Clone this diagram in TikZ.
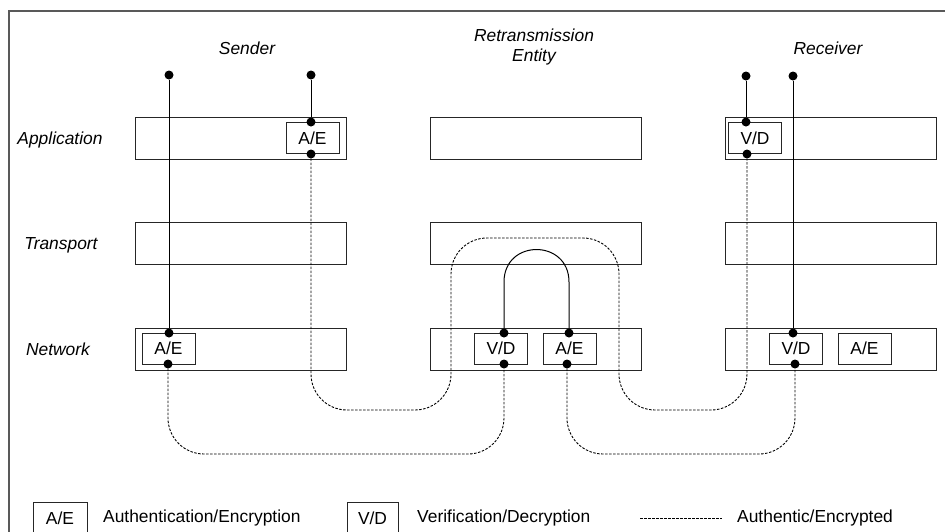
\documentclass[tikz,border=0pt]{standalone}
\usepackage{fontspec}
\setmainfont{Liberation Sans}
\begin{document}
\begin{tikzpicture}[x=1pt, y=-1pt,
  layer/.style={shape=rectangle, draw=black!85, line width=0.9pt, minimum width=211pt, minimum height=42pt},
  unit/.style={shape=rectangle, draw=black!85, fill=white, line width=0.9pt, minimum width=53pt, minimum height=31pt, inner sep=0pt, font=\fontsize{17.4}{20}\selectfont},
  dot/.style={shape=circle, fill=black, inner sep=0pt, minimum size=9pt},
  head/.style={font=\fontsize{17.4}{20}\selectfont\itshape, align=center, inner sep=0pt},
  legend/.style={font=\fontsize{17.4}{20}\selectfont, anchor=west, inner sep=0pt},
  link/.style={-, line width=1pt, draw=black},
  auth/.style={-, line width=0.9pt, draw=black, dash pattern=on 2.5pt off 1.5pt, rounded corners=36pt}]
\useasboundingbox (0,0) rectangle (945,531);
\clip (0,0) rectangle (945,531);
\draw[black!65, line width=1.2pt] (9,540) -- (9,11) -- (950,11);
% headings
\node[head] (sender) at (247,48) {Sender};
\node[head] (retrans) at (534,47) {Retransmission\\Entity};
\node[head] (receiver) at (828,48) {Receiver};
\node[head] (lapp) at (60,140) {Application};
\node[head] (ltrans) at (61,245) {Transport};
\node[head] (lnet) at (58,349) {Network};
% layers
\node[layer] (sapp) at (240.5,138) {};
\node[layer] (strans) at (240.5,243) {};
\node[layer] (snet) at (240.5,349) {};
\node[layer] (mtrans) at (535.5,243) {};
\node[layer] (mapp) at (535.5,138) {};
\node[layer] (mnet) at (535.5,349) {};
\node[layer] (rapp) at (830.5,138) {};
\node[layer] (rtrans) at (830.5,243) {};
\node[layer] (rnet) at (830.5,349) {};
% units
\node[unit] (sappae) at (312.5,138) {A/E};
\node[unit] (snetae) at (168.5,348.5) {A/E};
\node[unit] (mnetvd) at (501,348.5) {V/D};
\node[unit] (mnetae) at (569.5,348.5) {A/E};
\node[unit] (rappvd) at (755,138) {V/D};
\node[unit] (rnetvd) at (796,348.5) {V/D};
\node[unit] (rnetae) at (864.5,348.5) {A/E};
% dots
\node[dot] (s1) at (169,75) {};
\node[dot] (s2) at (311,75) {};
\node[dot] (r1) at (746,76) {};
\node[dot] (r2) at (793,76) {};
\node[dot] (sappT) at (311,122) {};
\node[dot] (sappB) at (311,154) {};
\node[dot] (snetT) at (169,333) {};
\node[dot] (snetB) at (168,364) {};
\node[dot] (mvdT) at (504,333) {};
\node[dot] (mvdB) at (504,364) {};
\node[dot] (maeT) at (569,333) {};
\node[dot] (maeB) at (567,364) {};
\node[dot] (rappT) at (746,122) {};
\node[dot] (rappB) at (747,154) {};
\node[dot] (rvdT) at (793,333) {};
\node[dot] (rvdB) at (795,364) {};
% solid links
\path [link] (s1) edge (snetT);
\path [link] (s2) edge (sappT);
\path [link] (r1) edge (rappT);
\path [link] (r2) edge (rvdT);
\draw [link] (mvdT) -- (504,282) .. controls (504,238.7) and (569,238.7) .. (569,282) -- (maeT);
% dashed links
\draw [auth] (sappB) |- (451,410) |- (619,238) |- (747,410) -- (rappB);
\draw [auth] (snetB) |- (336,454) -| (mvdB);
\draw [auth] (maeB) |- (681,454) -| (rvdB);
% legend
\node[unit, minimum width=54pt, minimum height=38pt, text depth=6pt] (keyae) at (60,521) {A/E};
\node[legend] (keyaetext) at (103,518) {Authentication/Encryption};
\node[unit, minimum width=51pt, minimum height=38pt, text depth=6pt] (keyvd) at (372.5,521) {V/D};
\node[legend] (keyvdtext) at (417,518) {Verification/Decryption};
\coordinate (keyl) at (640,518);
\coordinate (keyr) at (722,518);
\path [auth] (keyl) edge (keyr);
\node[legend] (keyauthtext) at (737,518) {Authentic/Encrypted};
\end{tikzpicture}
\end{document}
